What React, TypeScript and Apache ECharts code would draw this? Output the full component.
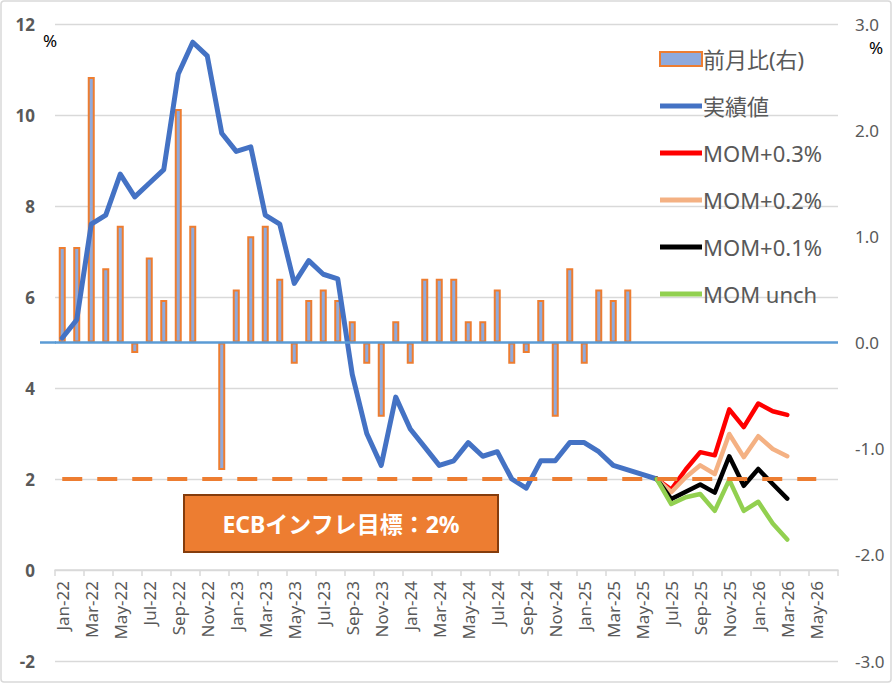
import React, { useEffect, useRef } from 'react';
import * as echarts from 'echarts';

// Categories (Jan-22 .. Jun-26)
const MONTHS = [
  'Jan-22', 'Feb-22', 'Mar-22', 'Apr-22', 'May-22', 'Jun-22', 'Jul-22', 'Aug-22', 'Sep-22', 'Oct-22', 'Nov-22', 'Dec-22',
  'Jan-23', 'Feb-23', 'Mar-23', 'Apr-23', 'May-23', 'Jun-23', 'Jul-23', 'Aug-23', 'Sep-23', 'Oct-23', 'Nov-23', 'Dec-23',
  'Jan-24', 'Feb-24', 'Mar-24', 'Apr-24', 'May-24', 'Jun-24', 'Jul-24', 'Aug-24', 'Sep-24', 'Oct-24', 'Nov-24', 'Dec-24',
  'Jan-25', 'Feb-25', 'Mar-25', 'Apr-25', 'May-25', 'Jun-25', 'Jul-25', 'Aug-25', 'Sep-25', 'Oct-25', 'Nov-25', 'Dec-25',
  'Jan-26', 'Feb-26', 'Mar-26', 'Apr-26', 'May-26', 'Jun-26',
];

// 前月比 (right axis, %), from Jan-22
const MOM = [
  0.9, 0.9, 2.5, 0.7, 1.1, -0.1, 0.8, 0.4, 2.2, 1.1, null, -1.2,
  0.5, 1.0, 1.1, 0.6, -0.2, 0.4, 0.5, 0.4, 0.2, -0.2, -0.7, 0.2,
  -0.2, 0.6, 0.6, 0.6, 0.2, 0.2, 0.5, -0.2, -0.1, 0.4, -0.7, 0.7,
  -0.2, 0.5, 0.4, 0.5,
];

// 実績値 (left axis, % y/y), from Jan-22
const ACTUAL = [
  5.1, 5.5, 7.6, 7.8, 8.7, 8.2, 8.5, 8.8, 10.9, 11.6, 11.3, 9.6,
  9.2, 9.3, 7.8, 7.6, 6.3, 6.8, 6.5, 6.4, 4.3, 3.0, 2.3, 3.8,
  3.1, 2.7, 2.3, 2.4, 2.8, 2.5, 2.6, 2.0, 1.8, 2.4, 2.4, 2.8,
  2.8, 2.6, 2.3, 2.2, 2.1, 2.0,
];

// Scenarios, starting at Jun-25
const SCENARIO_START = 'Jun-25';
const MOM_P03 = [2.0, 1.77, 2.21, 2.59, 2.52, 3.53, 3.14, 3.66, 3.49, 3.41];
const MOM_P02 = [2.0, 1.71, 2.04, 2.3, 2.11, 2.99, 2.48, 2.94, 2.66, 2.5];
const MOM_P01 = [2.0, 1.56, 1.72, 1.88, 1.7, 2.5, 1.85, 2.22, 1.89, 1.57];
const MOM_UNCH = [2.0, 1.45, 1.6, 1.67, 1.3, 1.98, 1.3, 1.5, 1.02, 0.67];

// ECB target line
const TARGET = 2;
const TARGET_FROM = 'Jan-22';
const TARGET_TO = 'May-26';

// Axis ticks
const LEFT_TICKS = { min: -2, max: 12, interval: 2 };
const RIGHT_TICKS = { min: -3, max: 3, interval: 1 };

const FONT = "'Noto Sans', 'Noto Sans CJK JP', sans-serif";
const GRAY = '#595959';

const W = 895;
const H = 684;
const GRID = { left: 55, right: 57, top: 24, bottom: 23 };

function padFrom(start: string, values: (number | null)[]) {
  const idx = MONTHS.indexOf(start);
  const out: (number | null)[] = MONTHS.map(() => null);
  values.forEach((v, i) => {
    out[idx + i] = v;
  });
  return out;
}

function lineSeries(name: string, data: (number | null)[], color: string, width: number) {
  return {
    name,
    type: 'line',
    xAxisIndex: 0,
    yAxisIndex: 0,
    data,
    symbol: 'none',
    connectNulls: false,
    lineStyle: { color, width, join: 'round', cap: 'round' },
    itemStyle: { color },
    z: 3,
  };
}

const LINE_ICON = 'path://M0,0L42,0L42,5L0,5Z';

export default function App() {
  const ref = useRef<HTMLDivElement>(null);

  useEffect(() => {
    document.body.style.margin = '0';
    if (!ref.current) return;
    const chart = echarts.init(ref.current, undefined, { renderer: 'svg' });

    // place the category axis on the left axis' zero line
    const plotH = H - GRID.top - GRID.bottom;
    const zeroOffset = -((0 - LEFT_TICKS.min) / (LEFT_TICKS.max - LEFT_TICKS.min)) * plotH;

    const staticGraphics: any[] = [
      {
        id: 'frame',
        type: 'rect',
        shape: { x: 1, y: 1, width: 890, height: 681, r: 3 },
        style: { fill: 'none', stroke: '#D9D9D9', lineWidth: 1.5 },
        silent: true,
        z: -10,
      },
      {
        id: 'pctL',
        type: 'text',
        x: 50,
        y: 40,
        style: { text: '%', fontSize: 17, fill: '#000', fontFamily: FONT, textAlign: 'center', textVerticalAlign: 'middle' },
      },
      {
        id: 'pctR',
        type: 'text',
        x: 876,
        y: 47,
        style: { text: '%', fontSize: 17, fill: '#000', fontFamily: FONT, textAlign: 'center', textVerticalAlign: 'middle' },
      },
      {
        id: 'targetBox',
        type: 'group',
        x: 184,
        y: 495,
        z: 100,
        children: [
          {
            type: 'rect',
            shape: { x: 0, y: 0, width: 314, height: 57 },
            style: { fill: '#ED7D31', stroke: '#843C0C', lineWidth: 2 },
          },
          {
            type: 'text',
            x: 157,
            y: 29,
            style: {
              text: 'ECBインフレ目標：2%',
              fontSize: 23,
              fontWeight: 'bold',
              fill: '#ffffff',
              fontFamily: FONT,
              textAlign: 'center',
              textVerticalAlign: 'middle',
            },
          },
        ],
      },
    ];

    const option: any = {
      animation: false,
      backgroundColor: '#ffffff',
      textStyle: { fontFamily: FONT },
      grid: { ...GRID, containLabel: false, outerBoundsMode: 'none' },
      legend: {
        orient: 'vertical',
        left: 654,
        top: 43,
        itemWidth: 42,
        itemHeight: 14,
        itemGap: 25,
        selectedMode: false,
        textStyle: { fontSize: 22, color: GRAY, fontFamily: FONT, padding: [0, 0, 0, -4] },
        data: [
          { name: '前月比(右)', icon: 'rect' },
          { name: '実績値', icon: LINE_ICON },
          { name: 'MOM+0.3%', icon: LINE_ICON },
          { name: 'MOM+0.2%', icon: LINE_ICON },
          { name: 'MOM+0.1%', icon: LINE_ICON },
          { name: 'MOM unch', icon: LINE_ICON },
        ],
      },
      xAxis: [
        {
          type: 'category',
          data: MONTHS,
          boundaryGap: true,
          position: 'bottom',
          offset: zeroOffset,
          axisLine: { onZero: false, lineStyle: { color: '#D9D9D9', width: 1.5 } },
          axisTick: { show: true, interval: 1, length: 6, lineStyle: { color: '#D9D9D9', width: 1.5 } },
          axisLabel: {
            interval: 1,
            rotate: 90,
            fontSize: 17,
            color: GRAY,
            margin: 11,
            fontFamily: FONT,
          },
          splitLine: { show: false },
        },
      ],
      yAxis: [
        {
          type: 'value',
          position: 'left',
          ...LEFT_TICKS,
          axisLine: { show: false },
          axisTick: { show: false },
          axisLabel: { fontSize: 17, fontWeight: 'bold', color: GRAY, margin: 20, fontFamily: FONT },
          splitLine: { show: true, lineStyle: { color: '#D9D9D9', width: 1.3 } },
        },
        {
          type: 'value',
          position: 'right',
          ...RIGHT_TICKS,
          axisLine: { show: false },
          axisTick: { show: false },
          axisLabel: {
            fontSize: 17,
            color: GRAY,
            margin: 17,
            fontFamily: FONT,
            formatter: (v: number) => v.toFixed(1),
          },
          splitLine: { show: false },
        },
      ],
      series: [
        {
          name: '前月比(右)',
          type: 'bar',
          xAxisIndex: 0,
          yAxisIndex: 1,
          data: padFrom('Jan-22', MOM),
          barWidth: 7,
          itemStyle: { color: '#8FAADC', borderColor: '#ED7D31', borderWidth: 2 },
          z: 2,
          markLine: {
            silent: true,
            symbol: 'none',
            label: { show: false },
            lineStyle: { color: '#5B9BD5', width: 2.5, type: 'solid' },
            data: [{ yAxis: 0 }],
          },
        },
        lineSeries('実績値', padFrom('Jan-22', ACTUAL), '#4472C4', 5),
        lineSeries('MOM+0.3%', padFrom(SCENARIO_START, MOM_P03), '#FF0000', 4.5),
        lineSeries('MOM+0.2%', padFrom(SCENARIO_START, MOM_P02), '#F4B183', 4.5),
        lineSeries('MOM+0.1%', padFrom(SCENARIO_START, MOM_P01), '#000000', 4.5),
        lineSeries('MOM unch', padFrom(SCENARIO_START, MOM_UNCH), '#92D050', 4.5),
        {
          name: 'ECB目標',
          type: 'line',
          xAxisIndex: 0,
          yAxisIndex: 0,
          data: [],
          z: 4,
          markLine: {
            silent: true,
            symbol: 'none',
            label: { show: false },
            lineStyle: { color: '#ED7D31', width: 4, type: [20, 15] },
            data: [[{ coord: [TARGET_FROM, TARGET] }, { coord: [TARGET_TO, TARGET] }]],
          },
        },
      ],
      graphic: staticGraphics,
    };

    chart.setOption(option);

    // extend the right-axis zero line a little to the left of the plot, as in the original
    const y0 = chart.convertToPixel({ yAxisIndex: 1 }, 0) as number;
    if (typeof y0 === 'number' && isFinite(y0)) {
      chart.setOption({
        graphic: [
          ...staticGraphics,
          {
            id: 'zeroExt',
            type: 'line',
            shape: { x1: 40, y1: y0, x2: GRID.left + 1, y2: y0 },
            style: { stroke: '#5B9BD5', lineWidth: 2.5 },
            silent: true,
            z: 5,
          },
        ],
      });
    }

    return () => {
      chart.dispose();
    };
  }, []);

  return <div ref={ref} style={{ width: W, height: H, position: 'absolute', left: 0, top: 0 }} />;
}
